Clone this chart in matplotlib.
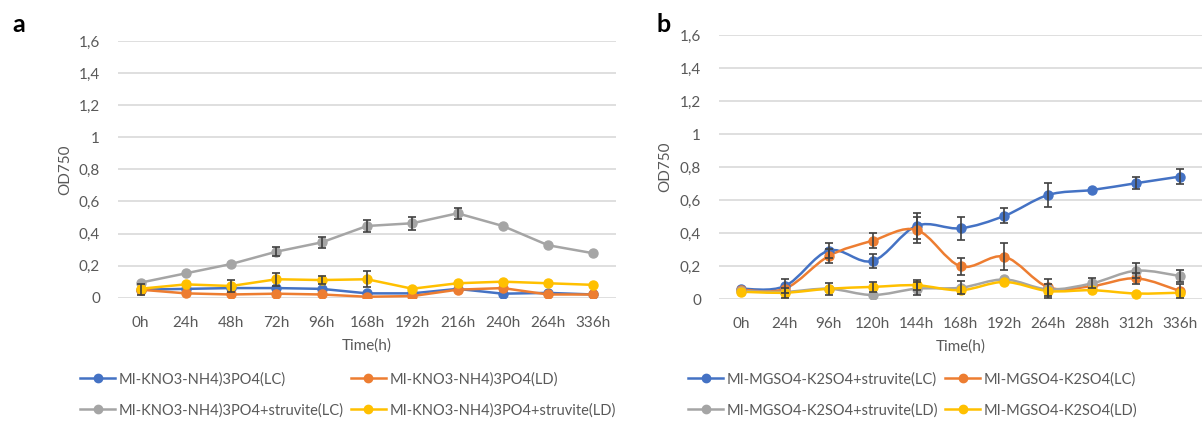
import matplotlib
matplotlib.use("Agg")
import matplotlib.pyplot as plt
import numpy as np
from matplotlib.path import Path
from matplotlib.patches import PathPatch
from matplotlib.lines import Line2D

plt.rcParams['font.family'] = ['Lato', 'DejaVu Sans']

# ---------------- data ----------------
times_a = ["0h", "24h", "48h", "72h", "96h", "168h", "192h", "216h", "240h", "264h", "336h"]
a_labels = ["MI-KNO3-NH4)3PO4(LC)", "MI-KNO3-NH4)3PO4(LD)",
            "MI-KNO3-NH4)3PO4+struvite(LC)", "MI-KNO3-NH4)3PO4+struvite(LD)"]
a_blue = [0.05, 0.055, 0.06, 0.06, 0.055, 0.027, 0.027, 0.055, 0.025, 0.03, 0.02]
a_blue_err = [0.035, 0.0, 0.0, 0.0, 0.0, 0.0, 0.0, 0.0, 0.0, 0.0, 0.0]
a_orange = [0.05, 0.027, 0.02, 0.025, 0.02, 0.006, 0.01, 0.05, 0.06, 0.02, 0.02]
a_orange_err = [0.0, 0.0, 0.0, 0.0, 0.0, 0.0, 0.0, 0.0, 0.0, 0.0, 0.0]
a_gray = [0.094, 0.152, 0.21, 0.287, 0.345, 0.447, 0.464, 0.526, 0.447, 0.327, 0.277]
a_gray_err = [0.0, 0.0, 0.0, 0.03, 0.035, 0.037, 0.04, 0.035, 0.0, 0.0, 0.0]
a_yellow = [0.056, 0.083, 0.073, 0.115, 0.11, 0.115, 0.056, 0.09, 0.1, 0.09, 0.08]
a_yellow_err = [0.0, 0.0, 0.04, 0.04, 0.025, 0.05, 0.0, 0.0, 0.0, 0.0, 0.0]

times_b = ["0h", "24h", "96h", "120h", "144h", "168h", "192h", "264h", "288h", "312h", "336h"]
b_labels = ["MI-MGSO4-K2SO4+struvite(LC)", "MI-MGSO4-K2SO4(LC)",
            "MI-MGSO4-K2SO4+struvite(LD)", "MI-MGSO4-K2SO4(LD)"]
b_blue = [0.064, 0.08, 0.295, 0.232, 0.445, 0.43, 0.505, 0.632, 0.662, 0.703, 0.743]
b_blue_err = [0.0, 0.04, 0.045, 0.045, 0.08, 0.07, 0.045, 0.075, 0.0, 0.035, 0.045]
b_orange = [0.058, 0.064, 0.262, 0.355, 0.42, 0.2, 0.258, 0.073, 0.08, 0.127, 0.05]
b_orange_err = [0.0, 0.0, 0.045, 0.045, 0.08, 0.05, 0.08, 0.05, 0.0, 0.035, 0.04]
b_gray = [0.05, 0.045, 0.064, 0.026, 0.064, 0.07, 0.12, 0.06, 0.097, 0.173, 0.141]
b_gray_err = [0.0, 0.0, 0.035, 0.0, 0.04, 0.04, 0.0, 0.0, 0.03, 0.045, 0.035]
b_yellow = [0.046, 0.04, 0.064, 0.075, 0.085, 0.055, 0.105, 0.05, 0.055, 0.035, 0.04]
b_yellow_err = [0.0, 0.03, 0.0, 0.03, 0.03, 0.0, 0.0, 0.04, 0.0, 0.0, 0.0]

yticks = [0, 0.2, 0.4, 0.6, 0.8, 1.0, 1.2, 1.4, 1.6]
ytick_labels = ["0", "0,2", "0,4", "0,6", "0,8", "1", "1,2", "1,4", "1,6"]

colors = ["#4472C4", "#ED7D31", "#A5A5A5", "#FFC000"]
TXT = "#595959"
GRID = "#D9D9D9"
ERR = "#404040"

fig = plt.figure(figsize=(12.03, 4.33), dpi=100)
ax_a = fig.add_axes([118/1203, 1-297.7/433, (616-118)/1203, (297.7-41)/433])
ax_b = fig.add_axes([719/1203, 1-299.3/433, (1202-719)/1203, (299.3-35)/433])


def smooth_path(x, y):
    x = np.asarray(x, float); y = np.asarray(y, float)
    n = len(x)
    verts = [(x[0], y[0])]
    codes = [Path.MOVETO]
    for i in range(n - 1):
        p0 = np.array([x[max(i-1, 0)], y[max(i-1, 0)]])
        p1 = np.array([x[i], y[i]])
        p2 = np.array([x[i+1], y[i+1]])
        p3 = np.array([x[min(i+2, n-1)], y[min(i+2, n-1)]])
        c1 = p1 + (p2 - p0) / 6.0
        c2 = p2 - (p3 - p1) / 6.0
        verts += [tuple(c1), tuple(c2), tuple(p2)]
        codes += [Path.CURVE4] * 3
    return Path(verts, codes)


def draw(ax, times, series, errs, smooth):
    x = np.arange(len(times))
    for vals, err, c in zip(series, errs, colors):
        if smooth:
            ax.add_patch(PathPatch(smooth_path(x, vals), fill=False, edgecolor=c,
                                   lw=1.8, zorder=3, capstyle='round'))
            ax.plot(x, vals, ls='none', marker='o', ms=6.5, color=c, zorder=4)
        else:
            ax.plot(x, vals, '-', marker='o', ms=6.5, color=c, lw=1.8, zorder=3)
        e = np.array(err)
        m = e > 0
        ax.errorbar(x[m], np.array(vals)[m], yerr=e[m], fmt='none', ecolor=ERR,
                    elinewidth=1.2, capsize=3, capthick=1.2, zorder=5)
    ax.set_xlim(-0.5, len(times) - 0.5)
    ax.set_ylim(0, 1.6)
    ax.set_xticks(x)
    ax.set_xticklabels(times, fontsize=11, color=TXT)
    ax.set_yticks(yticks)
    ax.set_yticklabels(ytick_labels, fontsize=11, color=TXT)
    ax.tick_params(axis='both', length=0)
    ax.tick_params(axis='x', pad=13)
    ax.tick_params(axis='y', pad=13)
    ax.grid(axis='y', color=GRID, lw=1.2, zorder=0)
    for s in ax.spines.values():
        s.set_visible(False)
    ax.set_xlabel("Time(h)", fontsize=11, color=TXT, labelpad=6)
    ax.set_ylabel("OD750", fontsize=11, color=TXT, labelpad=5)


draw(ax_a, times_a, [a_blue, a_orange, a_gray, a_yellow],
     [a_blue_err, a_orange_err, a_gray_err, a_yellow_err], smooth=False)
draw(ax_b, times_b, [b_blue, b_orange, b_gray, b_yellow],
     [b_blue_err, b_orange_err, b_gray_err, b_yellow_err], smooth=True)

fig.text(12/1203, 1-25/433, "a", fontsize=18, fontweight='bold', va='center', ha='left')
fig.text(657/1203, 1-25/433, "b", fontsize=18, fontweight='bold', va='center', ha='left')


def legend(labels, anchor):
    handles = [Line2D([], [], color=c, marker='o', ms=6, lw=1.8) for c in colors]
    order = [0, 2, 1, 3]
    leg = fig.legend([handles[i] for i in order], [labels[i] for i in order],
                     ncol=2, loc='upper left', bbox_to_anchor=anchor, frameon=False,
                     fontsize=10.5, handlelength=2.4, handletextpad=0.25,
                     columnspacing=0.5, labelspacing=1.15, borderpad=0, borderaxespad=0)
    for t in leg.get_texts():
        t.set_color(TXT)


legend(a_labels, (80/1203, 1-372/433))
legend(b_labels, (688/1203, 1-372/433))

fig.savefig("out.png", dpi=100)
